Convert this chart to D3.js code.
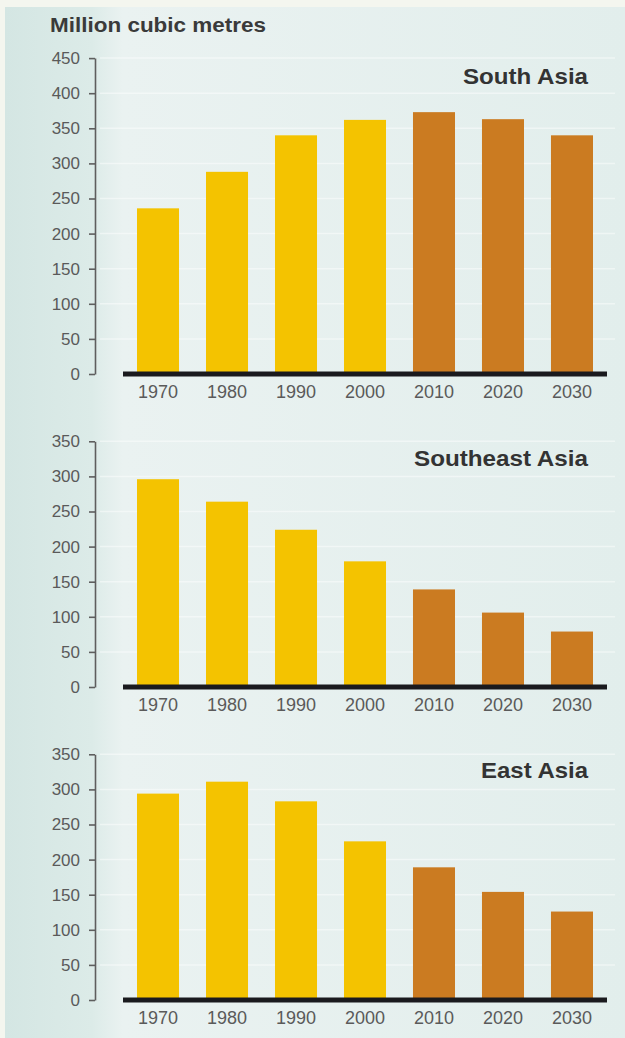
<!DOCTYPE html>
<html>
<head>
<meta charset="utf-8">
<script src="https://cdn.jsdelivr.net/npm/d3@7"></script>
<style>
  html, body { margin: 0; padding: 0; background: #f4f6ef; }
  svg { display: block; }
  text { font-family: "Liberation Sans", Arial, sans-serif; }
</style>
</head>
<body>
<svg id="chart" width="625" height="1038"></svg>
<script>
// ---- Data ----
const years = ["1970", "1980", "1990", "2000", "2010", "2020", "2030"];
const periodType = ["historical", "historical", "historical", "historical", "projected", "projected", "projected"];
const southAsia = [236, 288, 340, 362, 373, 363, 340];
const southeastAsia = [296, 264, 224, 179, 139, 106, 79];
const eastAsia = [294, 311, 283, 226, 189, 154, 126];
const regionNames = ["South Asia", "Southeast Asia", "East Asia"];
const ticksSouth = [0, 50, 100, 150, 200, 250, 300, 350, 400, 450];
const ticksOther = [0, 50, 100, 150, 200, 250, 300, 350];
const unitLabel = "Million cubic metres";

const panels = [
  { name: regionNames[0], values: southAsia, ticks: ticksSouth, base: 374, titleY: 76, titleW: 125 },
  { name: regionNames[1], values: southeastAsia, ticks: ticksOther, base: 687, titleY: 458, titleW: 174 },
  { name: regionNames[2], values: eastAsia, ticks: ticksOther, base: 1000, titleY: 770, titleW: 107 }
];

const svg = d3.select("#chart");
const defs = svg.append("defs");
const grad = defs.append("linearGradient").attr("id", "bg").attr("x1", 0).attr("x2", 1).attr("y1", 0).attr("y2", 0);
grad.append("stop").attr("offset", "0%").attr("stop-color", "#d4e6e3");
grad.append("stop").attr("offset", "14%").attr("stop-color", "#dcebe8");
grad.append("stop").attr("offset", "19%").attr("stop-color", "#eaf2f1");
grad.append("stop").attr("offset", "100%").attr("stop-color", "#e2eeec");

// background
svg.append("rect").attr("x", 0).attr("y", 0).attr("width", 625).attr("height", 1038).attr("fill", "#f4f6ef");
svg.append("rect").attr("x", 5).attr("y", 7).attr("width", 620).attr("height", 1031).attr("fill", "url(#bg)");

// header
svg.append("text")
  .attr("x", 50).attr("y", 25)
  .attr("dominant-baseline", "central")
  .attr("font-size", 20).attr("font-weight", "bold")
  .attr("fill", "#3a3a3a")
  .attr("textLength", 216).attr("lengthAdjust", "spacingAndGlyphs")
  .text(unitLabel);

const x = d3.scaleBand().domain(years).range([123, 607]).paddingInner(0.391).paddingOuter(0.203);
const color = d3.scaleOrdinal().domain(["historical", "projected"]).range(["#f4c300", "#cb7b21"]);
const pxPerUnit = 0.702;

panels.forEach(p => {
  const maxT = d3.max(p.ticks);
  const y = d3.scaleLinear().domain([0, maxT]).range([p.base, p.base - maxT * pxPerUnit]);
  const g = svg.append("g");

  // faint gridlines
  g.append("g").selectAll("line").data(p.ticks.slice(1)).join("line")
    .attr("x1", 100).attr("x2", 615)
    .attr("y1", d => y(d)).attr("y2", d => y(d))
    .attr("stroke", "#ffffff").attr("stroke-opacity", 0.45).attr("stroke-width", 1.5);

  // y axis
  const ya = g.append("g").attr("transform", "translate(95,0)")
    .call(d3.axisLeft(y).tickValues(p.ticks).tickSize(6).tickSizeOuter(0).tickPadding(9));
  ya.select(".domain").attr("stroke", "#5e5e5e").attr("stroke-width", 1.6);
  ya.selectAll(".tick line").attr("stroke", "#5e5e5e").attr("stroke-width", 1.6);
  ya.selectAll(".tick text").attr("font-size", 17).attr("fill", "#5a5a5a")
    .attr("font-family", "'Liberation Sans', Arial, sans-serif");

  // bars
  g.append("g").selectAll("rect").data(p.values).join("rect")
    .attr("x", (d, i) => x(years[i]))
    .attr("width", x.bandwidth())
    .attr("y", d => y(d))
    .attr("height", d => p.base - y(d))
    .attr("fill", (d, i) => color(periodType[i]));

  // baseline
  g.append("line")
    .attr("x1", 123).attr("x2", 607)
    .attr("y1", y(0)).attr("y2", y(0))
    .attr("stroke", "#1a1a1e").attr("stroke-width", 5);

  // x axis labels
  const xa = g.append("g").attr("transform", `translate(0,${p.base})`)
    .call(d3.axisBottom(x).tickSize(0).tickPadding(11));
  xa.select(".domain").remove();
  xa.selectAll(".tick text").attr("font-size", 18).attr("fill", "#5a5a5a")
    .attr("font-family", "'Liberation Sans', Arial, sans-serif");

  // region title
  g.append("text")
    .attr("x", 588).attr("y", p.titleY)
    .attr("text-anchor", "end").attr("dominant-baseline", "central")
    .attr("font-size", 22).attr("font-weight", "bold").attr("fill", "#333")
    .attr("textLength", p.titleW).attr("lengthAdjust", "spacingAndGlyphs")
    .text(p.name);
});
</script>
</body>
</html>
